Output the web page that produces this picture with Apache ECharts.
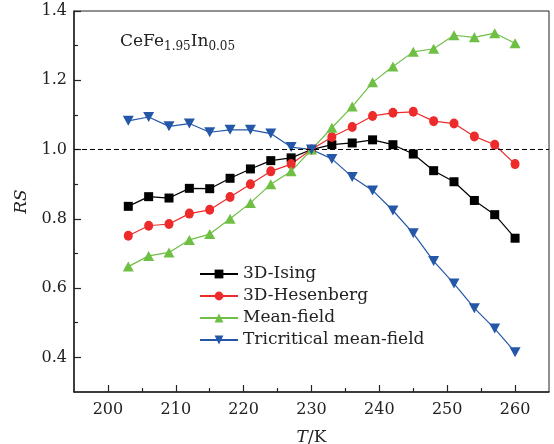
<!DOCTYPE html>
<html>
<head>
<meta charset="utf-8">
<script src="https://cdn.jsdelivr.net/npm/echarts@6/dist/echarts.min.js"></script>
<style>
  html, body { margin: 0; padding: 0; background: #fff; }
  #chart { width: 554px; height: 444px; }
</style>
</head>
<body>
<div id="chart"></div>
<script>
// 温度 (K)
var temps = [203, 206, 209, 212, 215, 218, 221, 224, 227, 230, 233, 236, 239, 242, 245, 248, 251, 254, 257, 260];
// RS 值，读自原图
var ising = [0.836, 0.864, 0.860, 0.888, 0.887, 0.917, 0.944, 0.968, 0.976, 1.000, 1.014, 1.019, 1.028, 1.014, 0.987, 0.939, 0.907, 0.853, 0.812, 0.744];
var heisenberg = [0.751, 0.780, 0.785, 0.815, 0.826, 0.863, 0.900, 0.937, 0.958, 1.000, 1.036, 1.065, 1.097, 1.106, 1.109, 1.082, 1.075, 1.038, 1.014, 0.958];
var meanField = [0.662, 0.693, 0.703, 0.739, 0.756, 0.800, 0.846, 0.900, 0.937, 1.000, 1.063, 1.124, 1.194, 1.240, 1.282, 1.291, 1.330, 1.324, 1.336, 1.307];
var tricritical = [1.083, 1.094, 1.067, 1.075, 1.050, 1.057, 1.057, 1.046, 1.007, 1.000, 0.973, 0.921, 0.882, 0.824, 0.758, 0.678, 0.613, 0.542, 0.483, 0.415];

// 刻度
var xTicks = [200, 210, 220, 230, 240, 250, 260];
var xMinorTicks = [205, 215, 225, 235, 245, 255];
var yTicks = [0.4, 0.6, 0.8, 1.0, 1.2, 1.4];
var yMinorTicks = [0.5, 0.7, 0.9, 1.1, 1.3];

var serif = 'DejaVu Serif';

function pairs(vals) {
	return temps.map(function(t, i) { return [t, vals[i]]; });
}

var myChart = echarts.init(document.getElementById('chart'));

var option = {
	animation : false,
	backgroundColor : '#fff',
	title : {
		left : 120,
		top : 30,
		padding : 0,
		text : '{m|CeFe}{s|1.95}{m|In}{s|0.05}',
		textStyle : {
			fontWeight : 'normal',
			rich : {
				m : { fontFamily : serif, fontSize : 17, fontWeight : 'normal', color : '#222', verticalAlign : 'bottom', lineHeight : 20 },
				s : { fontFamily : serif, fontSize : 12, fontWeight : 'normal', color : '#222', verticalAlign : 'bottom', lineHeight : 16, padding : [0, 0, -3, 0] }
			}
		}
	},
	grid : {
		left : 74,
		right : 5,
		top : 11,
		bottom : 52,
		outerBoundsMode : 'none',
		containLabel : false,
		show : true,
		borderColor : '#222',
		borderWidth : 1
	},
	legend : {
		orient : 'vertical',
		left : 199,
		top : 265,
		padding : 0,
		itemWidth : 38,
		itemHeight : 11,
		itemGap : 4,
		textStyle : { fontFamily : serif, fontSize : 17, color : '#222', lineHeight : 18 },
		data : ['3D-Ising', '3D-Hesenberg', 'Mean-field', 'Tricritical mean-field']
	},
	xAxis : [{
		type : 'value',
		min : 195,
		max : 265,
		name : '{i|T}{n|/K}',
		nameLocation : 'middle',
		nameGap : 37,
		nameTextStyle : {
			rich : {
				i : { fontFamily : serif, fontStyle : 'italic', fontSize : 17, color : '#222' },
				n : { fontFamily : serif, fontSize : 17, color : '#222' }
			}
		},
		axisLine : { show : true, lineStyle : { color : '#222', width : 1.5 } },
		axisTick : { show : true, inside : true, length : 7, customValues : xTicks, lineStyle : { color : '#222', width : 1.2 } },
		axisLabel : { customValues : xTicks, fontFamily : serif, fontSize : 16, color : '#222', margin : 10 },
		splitLine : { show : false }
	}, {
		type : 'value',
		min : 195,
		max : 265,
		position : 'bottom',
		axisLine : { show : false },
		axisTick : { show : true, inside : true, length : 4, customValues : xMinorTicks, lineStyle : { color : '#222', width : 1.2 } },
		axisLabel : { show : false, customValues : xMinorTicks },
		splitLine : { show : false }
	}],
	yAxis : [{
		type : 'value',
		min : 0.3,
		max : 1.4,
		name : 'RS',
		nameLocation : 'middle',
		nameGap : 44,
		nameTextStyle : { fontFamily : serif, fontStyle : 'italic', fontSize : 17, color : '#222' },
		axisLine : { show : true, lineStyle : { color : '#222', width : 1.5 } },
		axisTick : { show : true, inside : true, length : 7, customValues : yTicks, lineStyle : { color : '#222', width : 1.2 } },
		axisLabel : {
			customValues : yTicks,
			fontFamily : serif,
			fontSize : 16,
			color : '#222',
			margin : 7,
			formatter : function(v) { return v.toFixed(1); }
		},
		splitLine : { show : false }
	}, {
		type : 'value',
		min : 0.3,
		max : 1.4,
		position : 'left',
		axisLine : { show : false },
		axisTick : { show : true, inside : true, length : 4, customValues : yMinorTicks, lineStyle : { color : '#222', width : 1.2 } },
		axisLabel : { show : false, customValues : yMinorTicks },
		splitLine : { show : false }
	}],
	series : [{
		name : '3D-Ising',
		type : 'line',
		data : pairs(ising),
		symbol : 'rect',
		symbolSize : 9,
		itemStyle : { color : '#000' },
		lineStyle : { color : '#000', width : 1.2 },
		markLine : {
			silent : true,
			symbol : 'none',
			label : { show : false },
			lineStyle : { color : '#000', type : [5, 3], width : 1.2 },
			data : [{ yAxis : 1.0 }]
		}
	}, {
		name : '3D-Hesenberg',
		type : 'line',
		data : pairs(heisenberg),
		symbol : 'circle',
		symbolSize : [9, 10],
		itemStyle : { color : '#ee2b2b' },
		lineStyle : { color : '#ee2b2b', width : 1.2 }
	}, {
		name : 'Mean-field',
		type : 'line',
		data : pairs(meanField),
		symbol : 'triangle',
		symbolSize : [11, 10],
		itemStyle : { color : '#6fbf45' },
		lineStyle : { color : '#6fbf45', width : 1.2 }
	}, {
		name : 'Tricritical mean-field',
		type : 'line',
		data : pairs(tricritical),
		symbol : 'triangle',
		symbolRotate : 180,
		symbolSize : [11, 10],
		itemStyle : { color : '#2457a8' },
		lineStyle : { color : '#2457a8', width : 1.2 }
	}]
};

myChart.setOption(option);
</script>
</body>
</html>
